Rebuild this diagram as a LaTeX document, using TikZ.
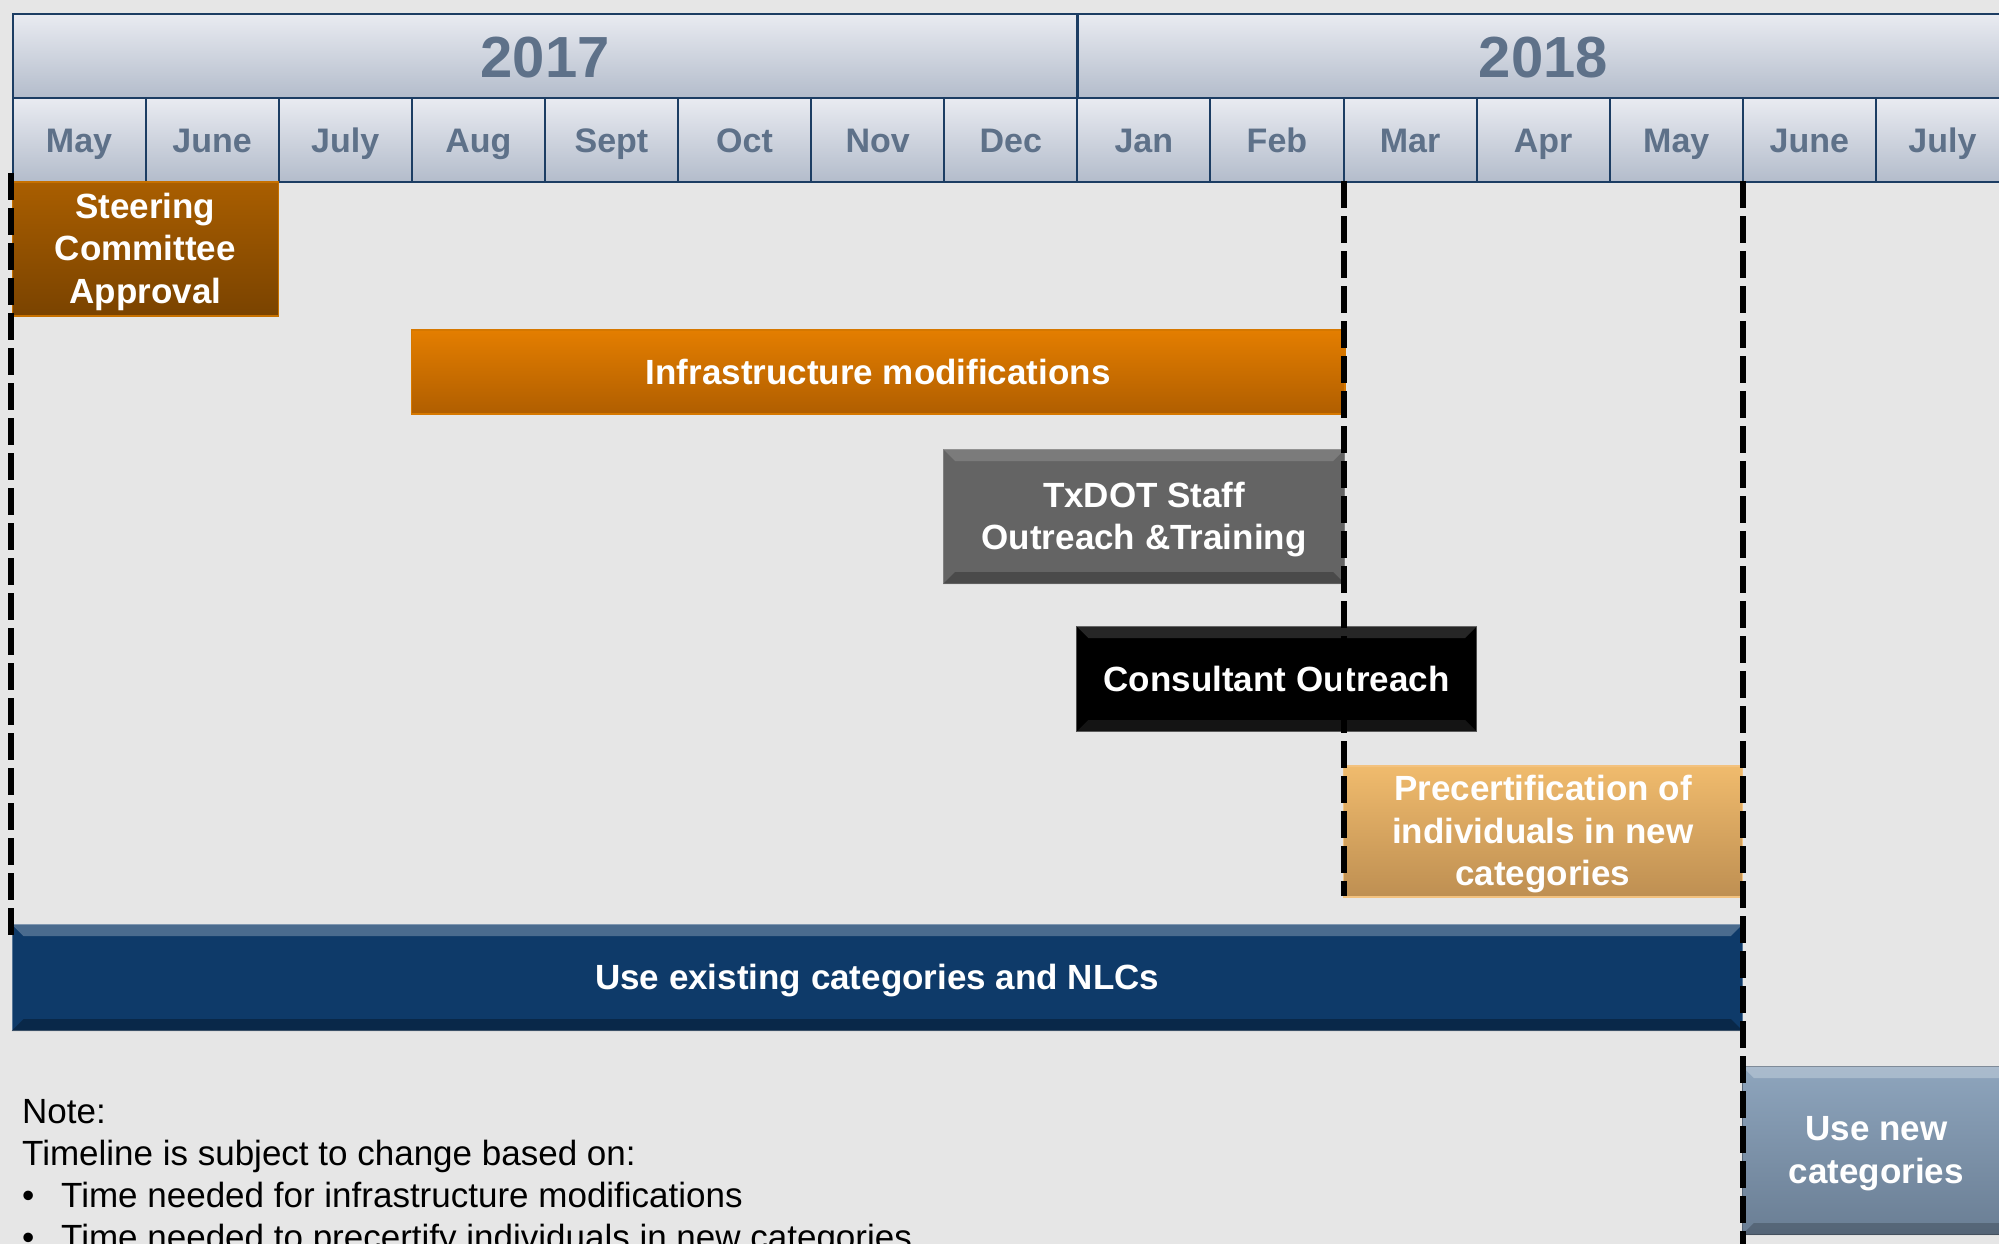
\documentclass[tikz,border=0pt]{standalone}
\usepackage{fontspec}
\setmainfont{Liberation Sans}
\usepackage{xcolor}
\usepackage{tikz}
\usetikzlibrary{calc}

\definecolor{bgcol}{HTML}{E6E6E6}
\definecolor{hdrtop}{HTML}{E9EBF1}
\definecolor{hdrbot}{HTML}{B3BCCB}
\definecolor{hdrline}{HTML}{1C3D63}
\definecolor{hdrtext}{HTML}{5E7189}
\definecolor{steertop}{HTML}{A95E00}
\definecolor{steerbot}{HTML}{7A4300}
\definecolor{steerline}{HTML}{C77100}
\definecolor{infratop}{HTML}{E47E00}
\definecolor{infrabot}{HTML}{B05E00}
\definecolor{infraline}{HTML}{D67800}
\definecolor{staffgray}{HTML}{646464}
\definecolor{precerttop}{HTML}{F0BB6D}
\definecolor{precertbot}{HTML}{BE8F52}
\definecolor{precertline}{HTML}{F3C27F}
\definecolor{oldblue}{HTML}{0E3A69}
\definecolor{newtop}{HTML}{8EA5BD}
\definecolor{newbot}{HTML}{6A7E94}

\begin{document}
\begin{tikzpicture}[x=1pt, y=-1pt,
  yearbox/.style={draw=hdrline, line width=2.5pt, top color=hdrtop, bottom color=hdrbot, text=hdrtext, font=\fontsize{58}{60}\selectfont\bfseries, minimum height=84pt, text height=43pt, text depth=0pt, anchor=north west, inner sep=0pt},
  monthbox/.style={draw=hdrline, line width=2pt, top color=hdrtop, bottom color=hdrbot, text=hdrtext, font=\fontsize{34}{40}\selectfont\bfseries, minimum width=133.1pt, minimum height=84pt, text height=25pt, text depth=0pt, anchor=north west, inner sep=0pt},
  taskbox/.style={anchor=north west, inner sep=0pt},
  tasklabel/.style={text=white, align=center, inner sep=0pt, yshift=-3pt, font=\fontsize{35}{42.5}\selectfont\bfseries},
  milestone/.style={black, line width=6pt, dash pattern=on 27pt off 8pt},
  notetext/.style={anchor=base west, inner sep=0pt, font=\fontsize{35}{42}\selectfont}]
  \useasboundingbox (0,0) rectangle (1999,1244);
  \fill[bgcol] (0,0) rectangle (1999,1244);

  % years
  \node[yearbox, minimum width=1064.8pt] (y2017) at (11.5,13) {2017};
  \node[yearbox, minimum width=931.7pt] (y2018) at (1076.3,13) {2018};

  % months
  \node[monthbox] (m1) at (11.5,97) {May};
  \node[monthbox] (m2) at (144.6,97) {June};
  \node[monthbox] (m3) at (277.7,97) {July};
  \node[monthbox] (m4) at (410.8,97) {Aug};
  \node[monthbox] (m5) at (543.9,97) {Sept};
  \node[monthbox] (m6) at (677.0,97) {Oct};
  \node[monthbox] (m7) at (810.1,97) {Nov};
  \node[monthbox] (m8) at (943.2,97) {Dec};
  \node[monthbox] (m9) at (1076.3,97) {Jan};
  \node[monthbox] (m10) at (1209.4,97) {Feb};
  \node[monthbox] (m11) at (1342.5,97) {Mar};
  \node[monthbox] (m12) at (1475.6,97) {Apr};
  \node[monthbox] (m13) at (1608.7,97) {May};
  \node[monthbox] (m14) at (1741.8,97) {June};
  \node[monthbox] (m15) at (1874.9,97) {July};

  % tasks
  \node[taskbox, minimum width=266.2pt, minimum height=134pt, draw=steerline, line width=1.5pt, top color=steertop, bottom color=steerbot] (steer) at (11.5,181) {};
  \node[taskbox, minimum width=933.2pt, minimum height=84pt, draw=infraline, line width=1.5pt, top color=infratop, bottom color=infrabot] (infra) at (410.8,329) {};
  \node[taskbox, minimum width=400.8pt, minimum height=134pt, draw=gray, line width=1pt, fill=staffgray] (staff) at (943.2,449) {};
  \node[taskbox, minimum width=399.7pt, minimum height=105pt, draw=gray!60!black, line width=1pt, fill=black] (consult) at (1076.3,626) {};
  \node[taskbox, minimum width=399.3pt, minimum height=131pt, draw=precertline, line width=1.5pt, top color=precerttop, bottom color=precertbot] (precert) at (1342.5,765) {};
  \node[taskbox, minimum width=1730.3pt, minimum height=106pt, draw=oldblue!70!white, line width=1pt, fill=oldblue] (oldcat) at (11.5,924) {};
  \node[taskbox, minimum width=268pt, minimum height=168pt, draw=newbot!80!black, line width=1pt, top color=newtop, bottom color=newbot] (newcat) at (1741.8,1066) {};

  % bevels
  \fill[white, opacity=0.15] (staff.north west) -- (staff.north east) -- ([shift={(-12,12)}]staff.north east) -- ([shift={(12,12)}]staff.north west) -- cycle;
  \fill[black, opacity=0.25] (staff.south west) -- (staff.south east) -- ([shift={(-12,-12)}]staff.south east) -- ([shift={(12,-12)}]staff.south west) -- cycle;
  \fill[white, opacity=0.15] (consult.north west) -- (consult.north east) -- ([shift={(-12,12)}]consult.north east) -- ([shift={(12,12)}]consult.north west) -- cycle;
  \fill[white, opacity=0.08] (consult.south west) -- (consult.south east) -- ([shift={(-12,-12)}]consult.south east) -- ([shift={(12,-12)}]consult.south west) -- cycle;
  \fill[white, opacity=0.25] (oldcat.north west) -- (oldcat.north east) -- ([shift={(-12,12)}]oldcat.north east) -- ([shift={(12,12)}]oldcat.north west) -- cycle;
  \fill[black, opacity=0.3] (oldcat.south west) -- (oldcat.south east) -- ([shift={(-12,-12)}]oldcat.south east) -- ([shift={(12,-12)}]oldcat.south west) -- cycle;
  \fill[white, opacity=0.25] (newcat.north west) -- (newcat.north east) -- ([shift={(-12,12)}]newcat.north east) -- ([shift={(12,12)}]newcat.north west) -- cycle;
  \fill[black, opacity=0.2] (newcat.south west) -- (newcat.south east) -- ([shift={(-12,-12)}]newcat.south east) -- ([shift={(12,-12)}]newcat.south west) -- cycle;

  % task texts
  \node[tasklabel] (steertext) at (steer.center) {Steering\\Committee\\Approval};
  \node[tasklabel, yshift=3pt] (infratext) at (infra.center) {Infrastructure modifications};
  \node[tasklabel] (stafftext) at (staff.center) {TxDOT Staff\\Outreach \&Training};
  \node[tasklabel, yshift=3pt] (consulttext) at (consult.center) {Consultant Outreach};
  \node[tasklabel] (precerttext) at (precert.center) {Precertification of\\individuals in new\\categories};
  \node[tasklabel] (oldcattext) at (oldcat.center) {Use existing categories and NLCs};
  \node[tasklabel] (newcattext) at (newcat.center) {Use new\\categories};

  % milestones
  \coordinate (startA) at (11,173);
  \coordinate (endA) at (11,936);
  \coordinate (startB) at (1344,181);
  \coordinate (endB) at (1344,896);
  \coordinate (startC) at (1743,181);
  \coordinate (endC) at (1743,1244);
  \draw[milestone] (startA) -- (endA);
  \draw[milestone] (startB) -- (endB);
  \draw[milestone] (startC) -- (endC);

  % note
  \node[notetext] (note) at (22,1123) {Note:};
  \node[notetext] (subject) at (22,1165) {Timeline is subject to change based on:};
  \node[notetext] (dot1) at (22,1207) {•};
  \node[notetext] (item1) at (61,1207) {Time needed for infrastructure modifications};
  \node[notetext] (dot2) at (22,1249) {•};
  \node[notetext] (item2) at (61,1249) {Time needed to precertify individuals in new categories};
\end{tikzpicture}
\end{document}
